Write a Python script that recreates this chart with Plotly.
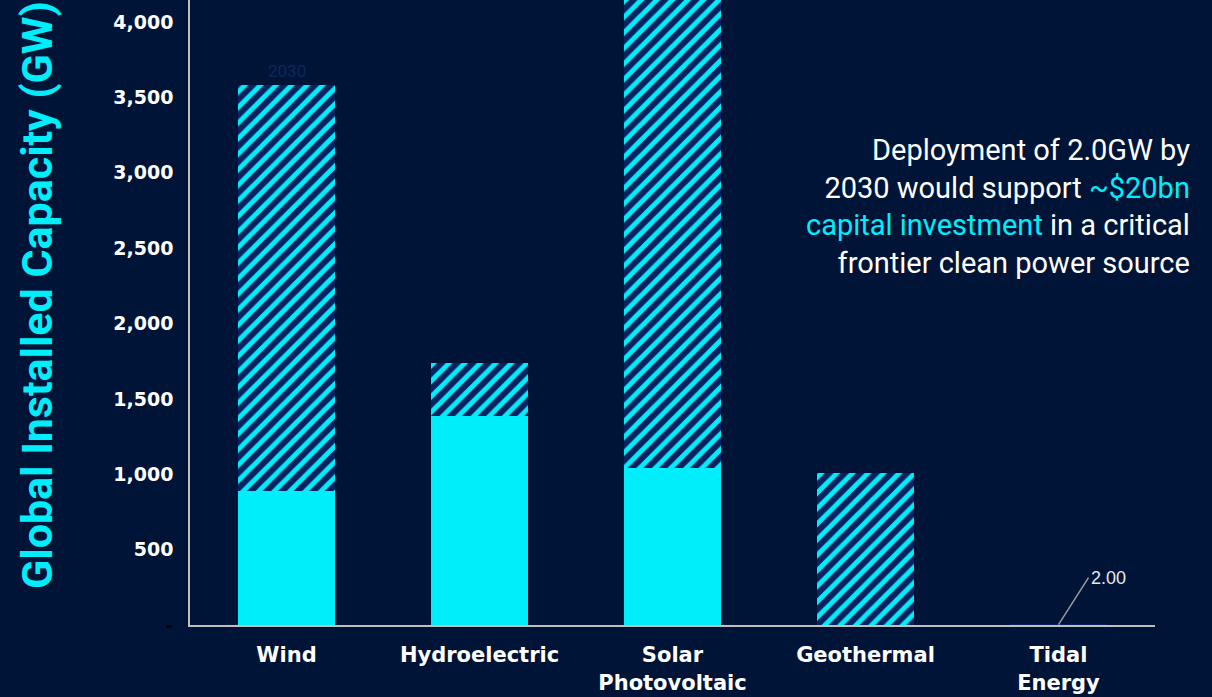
import plotly.graph_objects as go

categories = ["Wind", "Hydroelectric", "Solar<br>Photovoltaic", "Geothermal", "Tidal<br>Energy"]
current_gw = [890, 1385, 1040, 0, 0]
growth_to_2030_gw = [2690, 350, 4500, 1006, 2.0]
tick_vals = [0, 500, 1000, 1500, 2000, 2500, 3000, 3500, 4000]
tick_text = ['<span style="color:#000000">-</span>', "500", "1,000", "1,500", "2,000", "2,500", "3,000", "3,500", "4,000"]

BG = "#001438"
CYAN = "#00eefa"
NAVY = "#0a2260"

fig = go.Figure()
fig.add_trace(go.Bar(
    x=categories, y=current_gw, name="Current",
    marker=dict(color=CYAN, line=dict(width=0)),
))
fig.add_trace(go.Bar(
    x=categories, y=growth_to_2030_gw, name="2030",
    marker=dict(color=NAVY, line=dict(width=0),
                pattern=dict(shape=["/", "/", "/", "/", ""], fgcolor=CYAN, bgcolor=NAVY,
                             fgopacity=1, size=11, solidity=0.45)),
))

total_wind = current_gw[0] + growth_to_2030_gw[0]
fig.add_annotation(x=categories[0], y=total_wind, text="2030", showarrow=False,
                   yanchor="bottom", yshift=2,
                   font=dict(family="Roboto", size=17, color="#0b2a5c"))
total_tidal = current_gw[4] + growth_to_2030_gw[4]
fig.add_annotation(x=categories[4], y=total_tidal, text="2.00", showarrow=True,
                   arrowhead=0, arrowwidth=1.5, arrowcolor="#9a9a9a",
                   ax=30, ay=-47, xanchor="left",
                   font=dict(family="Liberation Sans", size=18, color="#e8e8e8"))

fig.add_annotation(
    xref="paper", yref="paper", x=1.038, y=0.79, xanchor="right", yanchor="top",
    align="right", showarrow=False,
    text=("Deployment of 2.0GW by<br>2030 would support "
          f'<span style="color:{CYAN}">~$20bn</span><br>'
          f'<span style="color:{CYAN}">capital investment</span> in a critical<br>'
          "frontier clean power source"),
    font=dict(family="Roboto", size=29, color="#ffffff"),
)

fig.add_annotation(
    xref="paper", yref="paper", x=-0.1585, y=0.528, xanchor="center", yanchor="middle",
    textangle=-90, showarrow=False, text="Global Installed Capacity (GW)",
    font=dict(family="Roboto", size=43, color=CYAN, weight="bold"),
)

fig.update_layout(
    width=1212, height=697,
    barmode="stack", bargap=0.5, showlegend=False,
    paper_bgcolor=BG, plot_bgcolor=BG,
    margin=dict(l=190, r=57, t=0, b=72),
    xaxis=dict(showline=True, linecolor="#bfbfbf", linewidth=2, ticks="",
               ticklabelstandoff=10,
               tickfont=dict(family="DejaVu Sans", size=21, color="#ffffff", weight="bold"),
               showgrid=False),
    yaxis=dict(range=[0, 4146], tickvals=tick_vals, ticktext=tick_text,
               showline=True, linecolor="#bfbfbf", linewidth=1.5, showgrid=False,
               zeroline=False, ticks="", ticklabelstandoff=11,
               tickfont=dict(family="DejaVu Sans", size=19, color="#ffffff", weight="bold")),
)

fig.write_html("out.html", config={"displayModeBar": False},
               post_script="document.body.style.margin='0';")
